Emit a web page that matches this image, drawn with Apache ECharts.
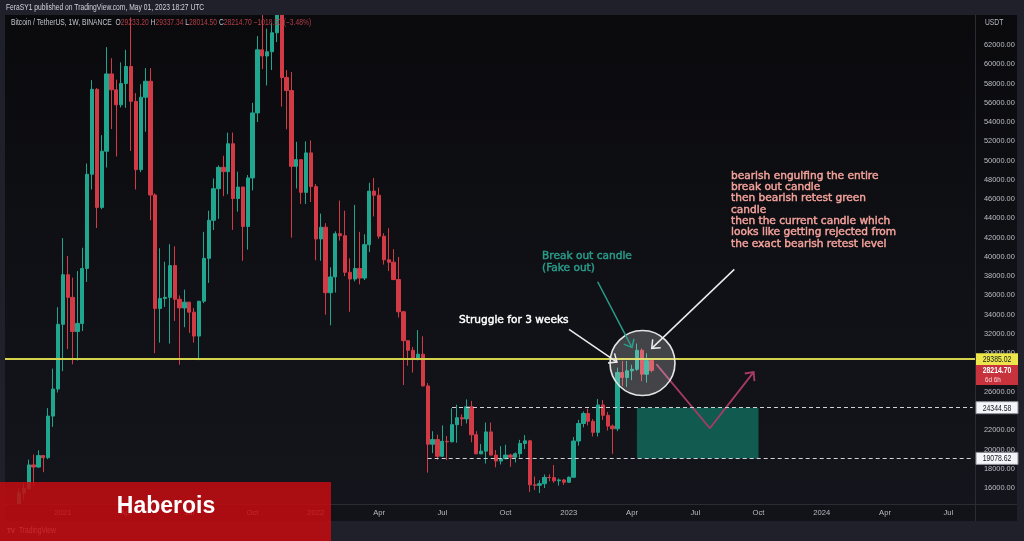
<!DOCTYPE html>
<html>
<head>
<meta charset="utf-8">
<script src="https://cdn.jsdelivr.net/npm/echarts@6/dist/echarts.min.js"></script>
<style>
  html, body { margin: 0; padding: 0; background: #1f2029; }
  #chart { width: 1024px; height: 541px; }
</style>
</head>
<body>
<div id="chart"></div>
<script>
// Weekly BTC/USDT candles (Binance), rows: [week start, open, high, low, close]
const candles2020 = [
  ['2020-10-12', 11380, 11720, 11200, 11500],
  ['2020-10-19', 11500, 13350, 11410, 13030],
  ['2020-10-26', 13030, 14100, 12900, 13780],
  ['2020-11-02', 13780, 15970, 13200, 15480],
  ['2020-11-09', 15480, 16480, 14800, 15960],
  ['2020-11-16', 15960, 18950, 15800, 18400],
  ['2020-11-23', 18400, 19480, 16200, 18180],
  ['2020-11-30', 18180, 19920, 18100, 19370],
  ['2020-12-07', 19370, 19420, 17650, 19150],
  ['2020-12-14', 19150, 24300, 19000, 23470],
  ['2020-12-21', 23470, 28400, 22350, 26280],
  ['2020-12-28', 26280, 34780, 25920, 33000]
];
const candles2021 = [
  ['2021-01-04', 33000, 41950, 28130, 38150],
  ['2021-01-11', 38150, 40100, 30420, 35800],
  ['2021-01-18', 35800, 37850, 28850, 32260],
  ['2021-01-25', 32260, 38530, 29240, 33090],
  ['2021-02-01', 33090, 40950, 32300, 38800],
  ['2021-02-08', 38800, 49700, 37400, 48580],
  ['2021-02-15', 48580, 58350, 47000, 57400],
  ['2021-02-22', 57400, 57530, 43000, 45140],
  ['2021-03-01', 45140, 52640, 44950, 50970],
  ['2021-03-08', 50970, 61780, 49280, 59000],
  ['2021-03-15', 59000, 60630, 53270, 57350],
  ['2021-03-22', 57350, 58400, 50430, 55790],
  ['2021-03-29', 55790, 60200, 55520, 58000],
  ['2021-04-05', 58000, 61500, 55480, 59770],
  ['2021-04-12', 59770, 64850, 51000, 56150],
  ['2021-04-19', 56150, 57000, 47000, 49060],
  ['2021-04-26', 49060, 57930, 48800, 56580],
  ['2021-05-03', 56580, 59600, 53000, 58240],
  ['2021-05-10', 58240, 59600, 43800, 46430],
  ['2021-05-17', 46430, 46600, 30000, 34650],
  ['2021-05-24', 34650, 40900, 31100, 35680],
  ['2021-05-31', 35680, 39500, 34800, 35800],
  ['2021-06-07', 35800, 41330, 31000, 39100],
  ['2021-06-14', 39100, 41100, 33350, 35600],
  ['2021-06-21', 35600, 36000, 28800, 34700],
  ['2021-06-28', 34700, 36600, 32700, 35300],
  ['2021-07-05', 35300, 35300, 32100, 34260],
  ['2021-07-12', 34260, 34700, 31100, 31780],
  ['2021-07-19', 31780, 35000, 29280, 35400],
  ['2021-07-26', 35400, 42600, 35200, 39850],
  ['2021-08-02', 39850, 44800, 37300, 43800],
  ['2021-08-09', 43800, 48150, 42800, 47080],
  ['2021-08-16', 47080, 49500, 43950, 49300],
  ['2021-08-23', 49300, 50500, 46300, 48850],
  ['2021-08-30', 48850, 52900, 46500, 51750],
  ['2021-09-06', 51750, 52920, 42800, 46060],
  ['2021-09-13', 46060, 48850, 44700, 47250],
  ['2021-09-20', 47250, 47300, 39600, 43160],
  ['2021-09-27', 43160, 48500, 40750, 48200],
  ['2021-10-04', 48200, 56000, 46900, 54950],
  ['2021-10-11', 54950, 62930, 54000, 61500],
  ['2021-10-18', 61500, 67000, 59500, 60860],
  ['2021-10-25', 60860, 63700, 57800, 61300],
  ['2021-11-01', 61300, 64300, 59400, 63270],
  ['2021-11-08', 63270, 69000, 62300, 65500],
  ['2021-11-15', 65500, 66400, 55600, 58620],
  ['2021-11-22', 58620, 59400, 53250, 57270],
  ['2021-11-29', 57270, 59200, 42000, 49400],
  ['2021-12-06', 49400, 51950, 47100, 50100],
  ['2021-12-13', 50100, 50100, 45500, 46700],
  ['2021-12-20', 46700, 52000, 45500, 50800],
  ['2021-12-27', 50800, 52100, 45700, 47300]
];
const candles2022 = [
  ['2022-01-03', 47300, 47570, 39650, 41860],
  ['2022-01-10', 41860, 44500, 39600, 43080],
  ['2022-01-17', 43080, 43500, 34000, 36280],
  ['2022-01-24', 36280, 38920, 32900, 37920],
  ['2022-01-31', 37920, 42650, 36300, 42410],
  ['2022-02-07', 42410, 45850, 41700, 42200],
  ['2022-02-14', 42200, 44800, 38000, 38400],
  ['2022-02-21', 38400, 39850, 34300, 37700],
  ['2022-02-28', 37700, 45400, 37450, 38800],
  ['2022-03-07', 38800, 42600, 37150, 37800],
  ['2022-03-14', 37800, 42350, 37600, 41270],
  ['2022-03-21', 41270, 47700, 40500, 46830],
  ['2022-03-28', 46830, 48200, 44200, 46400],
  ['2022-04-04', 46400, 47200, 41880, 42150],
  ['2022-04-11', 42150, 42450, 39200, 39700],
  ['2022-04-18', 39700, 42980, 38540, 39450],
  ['2022-04-25', 39450, 40800, 37580, 37650],
  ['2022-05-02', 37650, 40000, 33700, 34300],
  ['2022-05-09', 34300, 34400, 26700, 31300],
  ['2022-05-16', 31300, 31300, 28700, 30300],
  ['2022-05-23', 30300, 30650, 28000, 29450],
  ['2022-05-30', 29450, 32400, 29250, 29900],
  ['2022-06-06', 29900, 31750, 26560, 26600],
  ['2022-06-13', 26600, 26900, 17600, 20550],
  ['2022-06-20', 20550, 21900, 19630, 21030],
  ['2022-06-27', 21030, 21550, 18950, 19300],
  ['2022-07-04', 19300, 22500, 19250, 20850],
  ['2022-07-11', 20850, 21400, 18900, 20800],
  ['2022-07-18', 20800, 24280, 20750, 22580],
  ['2022-07-25', 22580, 24650, 20700, 23300],
  ['2022-08-01', 23300, 23650, 22450, 23180],
  ['2022-08-08', 23180, 25200, 22700, 24440],
  ['2022-08-15', 24440, 25050, 20750, 21530],
  ['2022-08-22', 21530, 21900, 19520, 19550],
  ['2022-08-29', 19550, 20580, 19510, 19830],
  ['2022-09-05', 19830, 22800, 18550, 21830],
  ['2022-09-12', 21830, 22800, 19600, 19420],
  ['2022-09-19', 19420, 19950, 18150, 18800],
  ['2022-09-26', 18800, 20350, 18450, 19050],
  ['2022-10-03', 19050, 20500, 19000, 19420],
  ['2022-10-10', 19420, 19550, 18200, 19200],
  ['2022-10-17', 19200, 19700, 18650, 19570],
  ['2022-10-24', 19570, 21000, 19150, 20630],
  ['2022-10-31', 20630, 21500, 20050, 20900],
  ['2022-11-07', 20900, 21000, 15600, 16330],
  ['2022-11-14', 16330, 17200, 15800, 16280],
  ['2022-11-21', 16280, 16800, 15480, 16450],
  ['2022-11-28', 16450, 17400, 16000, 17100],
  ['2022-12-05', 17100, 17430, 16700, 17080],
  ['2022-12-12', 17080, 18400, 16550, 16750],
  ['2022-12-19', 16750, 17000, 16250, 16840],
  ['2022-12-26', 16840, 16950, 16330, 16600]
];
const candles2023 = [
  ['2023-01-02', 16600, 17200, 16550, 17120],
  ['2023-01-09', 17120, 21300, 17100, 20880],
  ['2023-01-16', 20880, 23080, 20400, 22700],
  ['2023-01-23', 22700, 23950, 22300, 23740],
  ['2023-01-30', 23740, 24250, 22500, 22930],
  ['2023-02-06', 22930, 23160, 21350, 21780],
  ['2023-02-13', 21780, 25250, 21350, 24630],
  ['2023-02-20', 24630, 25130, 23080, 23550],
  ['2023-02-27', 23550, 23900, 21970, 22430],
  ['2023-03-06', 22430, 22600, 19550, 22150],
  ['2023-03-13', 22150, 28500, 21900, 28000],
  ['2023-03-20', 28000, 29200, 26600, 27480],
  ['2023-03-27', 27480, 29200, 26500, 28170],
  ['2023-04-03', 28170, 28800, 27200, 28330],
  ['2023-04-10', 28330, 31000, 28170, 30300],
  ['2023-04-17', 30300, 30500, 27100, 27820],
  ['2023-04-24', 27820, 30000, 26950, 29233.20],
  ['2023-05-01', 29233.20, 29337.34, 28014.50, 28214.70]
];

// Time scale: weekly slots from the first candle on, plus empty weeks to the right
const firstWeek = '2020-10-12';
const weekCount = 200;
const timeTicks = [
  ['2021-01-04', '2021'], ['2021-04-05', 'Apr'], ['2021-07-05', 'Jul'], ['2021-10-04', 'Oct'],
  ['2022-01-03', '2022'], ['2022-04-04', 'Apr'], ['2022-07-04', 'Jul'], ['2022-10-03', 'Oct'],
  ['2023-01-02', '2023'], ['2023-04-03', 'Apr'], ['2023-07-03', 'Jul'], ['2023-10-02', 'Oct'],
  ['2024-01-01', '2024'], ['2024-04-01', 'Apr'], ['2024-07-01', 'Jul']
];
const priceScale = { min: 14000, max: 66000, step: 2000 };

// Drawn levels and the projected move
const resistanceLevel = 29385.02;
const zoneTop = 24344.58;
const zoneBottom = 19078.62;
const zoneTopFrom = '2022-07-18';
const zoneBottomFrom = '2022-06-13';
const projectionZone = ['2023-04-10', '2023-10-02'];
const projectedPath = [['2023-05-08', 28860], ['2023-07-24', 22210], ['2023-09-25', 28040]];
const countdown = '6d 6h';

const candles = [...candles2020, ...candles2021, ...candles2022, ...candles2023];

const weeks = [];
const t0 = Date.parse(firstWeek + 'T00:00:00Z');
for (let i = 0; i < weekCount; i++) {
  weeks.push(new Date(t0 + i * 7 * 864e5).toISOString().slice(0, 10));
}
const byWeek = new Map(candles.map(r => [r[0], r]));
const tickMap = new Map(timeTicks);

const UP = '#20a68f', DOWN = '#d23a46';
const UI_FONT = '"Liberation Sans", Arial, sans-serif';
const NOTE_FONT = '"DejaVu Sans", sans-serif';
const SQUEEZE = 0.79;   // narrow UI lettering

const chart = echarts.init(document.getElementById('chart'), null, { renderer: 'canvas', width: 1024, height: 541 });

const option = {
  animation: false,
  backgroundColor: {
    type: 'linear', x: 0, y: 0, x2: 0, y2: 1,
    colorStops: [{ offset: 0, color: '#0a0a0d' }, { offset: 1, color: '#15161d' }]
  },
  grid: { left: 2, right: 49, top: 6.5, bottom: 33.7, show: false },
  xAxis: {
    type: 'category',
    data: weeks,
    boundaryGap: true,
    z: 6,
    axisLine: { show: false },
    axisTick: { show: false },
    splitLine: { show: false },
    axisLabel: {
      interval: (i, v) => tickMap.has(v),
      formatter: v => tickMap.get(v) || '',
      color: '#b8bbc4',
      fontSize: 7.6,
      fontFamily: UI_FONT,
      margin: 2
    }
  },
  yAxis: {
    type: 'value',
    position: 'right',
    min: priceScale.min,
    max: priceScale.max,
    interval: priceScale.step,
    z: 6,
    axisLine: { show: false },
    axisTick: { show: false },
    splitLine: { show: false },
    axisLabel: {
      margin: 9,
      color: '#bcbfc7',
      fontSize: 7.4,
      fontFamily: UI_FONT,
      formatter: v => (v > 62000 || v < 16000 || v === 28000 || v === 24000) ? '' : v.toFixed(2)
    }
  },
  series: [
    {
      type: 'candlestick',
      z: 2,
      barWidth: '78%',
      clip: true,
      data: weeks.map(w => {
        const r = byWeek.get(w);
        return r ? [r[1], r[4], r[3], r[2]] : '-';
      }),
      itemStyle: { color: UP, color0: DOWN, borderColor: UP, borderColor0: DOWN, borderWidth: 1 },
      markLine: {
        silent: true,
        symbol: ['none', 'none'],
        label: { show: false },
        emphasis: { disabled: true },
        data: [
          { yAxis: resistanceLevel, lineStyle: { color: '#d5d24b', width: 2, type: 'solid' } },
          [
            { coord: [zoneTopFrom, zoneTop], lineStyle: { color: '#d0d1d6', width: 1, type: [4, 3] } },
            { coord: [weeks[weekCount - 1], zoneTop] }
          ],
          [
            { coord: [zoneBottomFrom, zoneBottom], lineStyle: { color: '#d0d1d6', width: 1, type: [4, 3] } },
            { coord: [weeks[weekCount - 1], zoneBottom] }
          ]
        ]
      },
      markArea: {
        silent: true,
        itemStyle: { color: 'rgba(16,150,125,0.55)' },
        data: [[
          { coord: [projectionZone[0], zoneTop] },
          { coord: [projectionZone[1], zoneBottom] }
        ]]
      }
    },
    {
      type: 'line',
      z: 4,
      silent: true,
      symbol: 'none',
      data: projectedPath,
      lineStyle: { color: '#a83a66', width: 1.8 }
    }
  ]
};
chart.setOption(option);

// ---- overlay drawing, positioned through the chart's own scales ----
const p0 = chart.convertToPixel({ gridIndex: 0 }, [0, 0]);
const p1 = chart.convertToPixel({ gridIndex: 0 }, [1, 0]);
const slot = p1[0] - p0[0];
function at(idx, price) {
  return [p0[0] + idx * slot, chart.convertToPixel({ gridIndex: 0 }, [0, price])[1]];
}
const yOf = price => at(0, price)[1];

const els = [];
const rect = (x, y, w, h, fill, z, extra) => els.push(Object.assign({ type: 'rect', shape: { x, y, width: w, height: h }, style: { fill }, z, silent: true }, extra || {}));
const seg = (x1, y1, x2, y2, stroke, w, z) => els.push({ type: 'line', shape: { x1, y1, x2, y2 }, style: { stroke, lineWidth: w }, z, silent: true });
const txt = (x, y, text, style, z, sx) => els.push({ type: 'text', x, y, scaleX: sx || 1, style: Object.assign({ text }, style), z, silent: true });

function arrow(from, to, color, width, z) {
  seg(from[0], from[1], to[0], to[1], color, width, z);
  const ang = Math.atan2(to[1] - from[1], to[0] - from[0]);
  const len = 9, spread = 0.7;
  const a1 = [to[0] - len * Math.cos(ang - spread), to[1] - len * Math.sin(ang - spread)];
  const a2 = [to[0] - len * Math.cos(ang + spread), to[1] - len * Math.sin(ang + spread)];
  els.push({ type: 'polyline', shape: { points: [a1, to, a2] }, style: { stroke: color, lineWidth: width, fill: null }, z, silent: true });
}

// frame: header, borders, time-axis band, footer
rect(0, 0, 1024, 15, '#1f2029', 5);
rect(0, 0, 5, 541, '#1f2029', 5);
rect(1017, 0, 7, 541, '#1f2029', 5);
rect(5, 504, 1012, 17, '#121319', 5);
rect(0, 521, 1024, 20, '#1f2029', 5);
seg(975.5, 15, 975.5, 521, '#2a2c35', 1, 5);
seg(5, 504.5, 1017, 504.5, '#2a2c35', 1, 5);

// header and symbol legend
txt(6, 8, 'FeraSY1 published on TradingView.com, May 01, 2023 18:27 UTC',
  { fill: '#d1d4dc', fontSize: 8.5, fontFamily: UI_FONT, verticalAlign: 'middle' }, 6, SQUEEZE);
const last = candles[candles.length - 1];
const prevClose = candles[candles.length - 2][4];
const chg = last[4] - prevClose;
const fmt = v => v.toFixed(2);
const signed = v => (v < 0 ? '\u2212' : '+') + Math.abs(v).toFixed(2);
txt(11, 23,
  '{n|Bitcoin / TetherUS, 1W, BINANCE}  {k|O}{v|' + fmt(last[1]) + '} {k|H}{v|' + fmt(last[2]) +
  '} {k|L}{v|' + fmt(last[3]) + '} {k|C}{v|' + fmt(last[4]) + '} {v|' + signed(chg) +
  ' (' + signed(chg / prevClose * 100) + '%)}',
  {
    fontSize: 8.5, fontFamily: UI_FONT, verticalAlign: 'middle',
    rich: {
      n: { fill: '#c3c6ce', fontSize: 8.5, fontFamily: UI_FONT },
      k: { fill: '#c3c6ce', fontSize: 8.5, fontFamily: UI_FONT },
      v: { fill: '#b23d47', fontSize: 8.5, fontFamily: UI_FONT }
    }
  }, 10, SQUEEZE);
txt(985, 23, 'USDT', { fill: '#b8bbc4', fontSize: 8.5, fontFamily: UI_FONT, verticalAlign: 'middle' }, 6, SQUEEZE);

// price-scale tags
function tag(price, fill, color, stroke) {
  const y = yOf(price);
  rect(976, y - 6, 42, 12, fill, 11, stroke ? { style: { fill, stroke, lineWidth: 1 } } : null);
  txt(997, y + 0.5, fmt(price), { fill: color, fontSize: 8.7, fontFamily: UI_FONT, align: 'center', verticalAlign: 'middle' }, 12, SQUEEZE);
}
tag(resistanceLevel, '#ece64a', '#131722');
tag(zoneTop, '#f4f5f8', '#131722', '#8a8d96');
tag(zoneBottom, '#f4f5f8', '#131722', '#8a8d96');
{
  const y = yOf(last[4]);
  rect(976, y - 5.5, 42, 20, '#c8323d', 11);
  txt(997, y + 0.3, fmt(last[4]), { fill: '#ffffff', fontSize: 8.7, fontFamily: UI_FONT, fontWeight: 'bold', align: 'center', verticalAlign: 'middle' }, 12, SQUEEZE);
  txt(985, y + 9.5, countdown, { fill: '#f3d7d9', fontSize: 8, fontFamily: UI_FONT, align: 'left', verticalAlign: 'middle' }, 12, SQUEEZE);
}

// highlight circle around the breakout / retest candles
{
  const c = at(131.15, 28979);
  els.push({ type: 'circle', shape: { cx: c[0], cy: c[1], r: 32.5 }, style: { fill: 'rgba(255,255,255,0.21)', stroke: '#e4e4e4', lineWidth: 1.6 }, z: 8, silent: true });
}

// arrows
arrow(at(116.05, 32478), at(125.9, 29083), '#ececec', 1.5, 9);
arrow(at(121.94, 37421), at(129.0, 30588), '#2a9d8a', 1.5, 9);
arrow(at(150.02, 38709), at(133.05, 30505), '#ececec', 1.5, 9);

// arrow tip of the projected path
{
  const idx = k => weeks.indexOf(projectedPath[k][0]);
  const n = projectedPath.length;
  const a = at(idx(n - 2), projectedPath[n - 2][1]);
  const b = at(idx(n - 1), projectedPath[n - 1][1]);
  const ang = Math.atan2(b[1] - a[1], b[0] - a[0]);
  const len = 9, spread = 0.75;
  els.push({ type: 'polyline', silent: true, z: 9, style: { stroke: '#a83a66', lineWidth: 1.8, fill: null },
    shape: { points: [
      [b[0] - len * Math.cos(ang - spread), b[1] - len * Math.sin(ang - spread)], b,
      [b[0] - len * Math.cos(ang + spread), b[1] - len * Math.sin(ang + spread)]
    ] } });
}

// notes
{
  const heavy = c => ({ stroke: c, lineWidth: 0.45 });
  const s = at(93.44, 33444);
  txt(s[0], s[1], 'Struggle for 3 weeks', Object.assign({ fill: '#ffffff', fontSize: 10.6, fontFamily: NOTE_FONT, verticalAlign: 'middle' }, heavy('#ffffff')), 9);
  const b = at(110.5, 39467);
  txt(b[0], b[1], 'Break out candle\n(Fake out)', Object.assign({ fill: '#2a9d8a', fontSize: 10.6, fontFamily: NOTE_FONT, verticalAlign: 'middle', lineHeight: 12 }, heavy('#2a9d8a')), 9);
  const r = at(149.35, 44866);
  txt(r[0], r[1], [
    'bearish engulfing the entire',
    'break out candle',
    'then bearish retest green',
    'candle',
    'then the current candle which',
    'looks like getting rejected from',
    'the exact bearish retest level'
  ].join('\n'), Object.assign({ fill: '#f4a29b', fontSize: 10.6, fontFamily: NOTE_FONT, verticalAlign: 'middle', lineHeight: 11.35 }, heavy('#f4a29b')), 9);
}

// footer mark and banner
txt(7, 531, 'TV', { fill: '#d1d4dc', fontSize: 8, fontWeight: 'bold', fontFamily: UI_FONT, verticalAlign: 'middle' }, 6, SQUEEZE);
txt(19, 531, 'TradingView', { fill: '#d1d4dc', fontSize: 8.5, fontFamily: UI_FONT, verticalAlign: 'middle' }, 6, SQUEEZE);
rect(0, 482, 331, 59, 'rgba(196,12,16,0.86)', 20);
txt(166, 507, 'Haberois', { fill: '#ffffff', fontSize: 23, fontWeight: 'bold', fontFamily: '"Liberation Sans", Arial, sans-serif', align: 'center', verticalAlign: 'middle' }, 21);

chart.setOption({ graphic: { elements: els } });
</script>
</body>
</html>
